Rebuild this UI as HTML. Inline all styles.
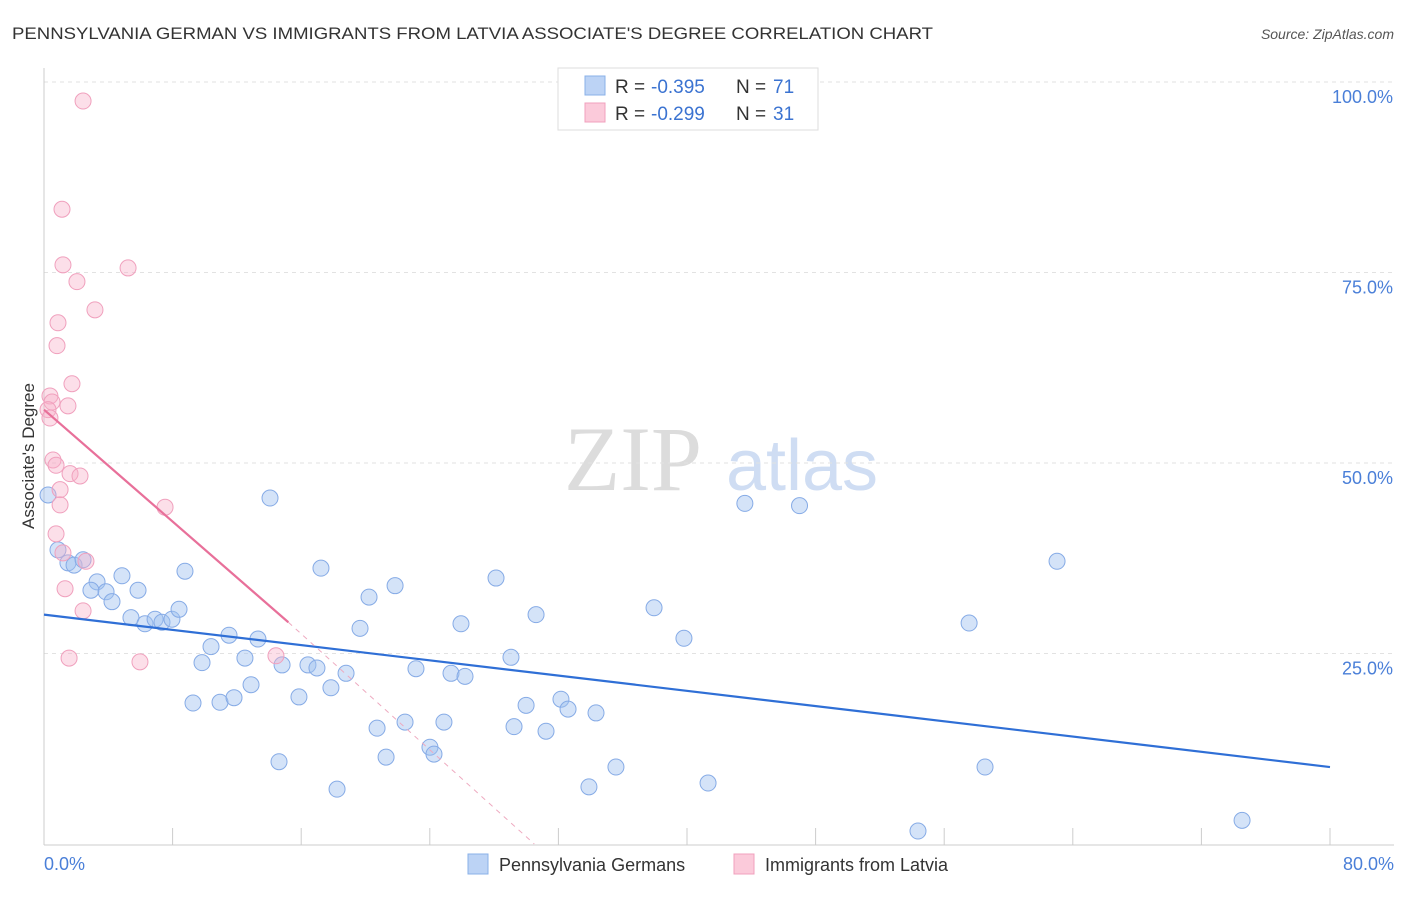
<!DOCTYPE html>
<html><head><meta charset="utf-8"><style>
body{margin:0;background:#fff;font-family:"Liberation Sans",sans-serif}
svg text{font-family:"Liberation Sans",sans-serif}
</style></head><body>
<svg id="chart" width="1406" height="892" xmlns="http://www.w3.org/2000/svg">
<text x="12" y="39" font-size="17" fill="#333" textLength="921" lengthAdjust="spacingAndGlyphs">PENNSYLVANIA GERMAN VS IMMIGRANTS FROM LATVIA ASSOCIATE'S DEGREE CORRELATION CHART</text>
<text x="1394" y="39" font-size="14" fill="#555" font-style="italic" text-anchor="end">Source: ZipAtlas.com</text>
<g>
<text x="633" y="490" font-size="92" fill="#dcdcdc" text-anchor="middle" style="font-family:'Liberation Serif',serif">ZIP</text>
<text x="802" y="490" font-size="72" fill="#cfddf3" text-anchor="middle">atlas</text>
</g>
<g id="grid"></g>
<g id="axes"></g>
<g id="marks"></g>
<text transform="translate(34,456) rotate(-90)" font-size="17" fill="#333" text-anchor="middle">Associate's Degree</text>
<g>
<rect x="558" y="68" width="260" height="62" fill="#fff" stroke="#ddd"/>
<rect x="585" y="76" width="20" height="19" fill="#bcd3f5" stroke="#8ab0e8"/>
<text x="615" y="93" font-size="19" fill="#333">R =</text>
<text x="651" y="93" font-size="19" fill="#3b73d1">-0.395</text>
<text x="736" y="93" font-size="19" fill="#333">N =</text>
<text x="773" y="93" font-size="19" fill="#3b73d1">71</text>
<rect x="585" y="103" width="20" height="19" fill="#fbcada" stroke="#f0a0bd"/>
<text x="615" y="120" font-size="19" fill="#333">R =</text>
<text x="651" y="120" font-size="19" fill="#3b73d1">-0.299</text>
<text x="736" y="120" font-size="19" fill="#333">N =</text>
<text x="773" y="120" font-size="19" fill="#3b73d1">31</text>
</g>
<g>
<rect x="468" y="854" width="20" height="20" fill="#bcd3f5" stroke="#8ab0e8"/>
<text x="499" y="871" font-size="18" fill="#333">Pennsylvania Germans</text>
<rect x="734" y="854" width="20" height="20" fill="#fbcada" stroke="#f0a0bd"/>
<text x="765" y="871" font-size="18" fill="#333">Immigrants from Latvia</text>
</g>
</svg>
<script>
const yTicks=[25,50,75,100];
const yTickLabels=["25.0%","50.0%","75.0%","100.0%"];
const xTicks=[0,8,16,24,32,40,48,56,64,72,80];
const blueX=[14.06,43.6,47.0,0.87,1.49,1.87,2.43,3.30,2.92,3.86,4.23,4.85,5.85,8.77,5.41,6.28,6.91,7.34,7.96,8.40,10.39,11.51,13.31,9.83,12.50,9.27,10.95,11.82,12.88,14.81,16.42,16.98,17.23,18.79,17.85,15.86,19.66,20.22,21.84,23.14,25.32,26.19,25.94,28.12,30.61,29.05,29.99,32.16,32.60,34.34,29.24,31.23,22.46,24.88,20.72,24.01,24.26,21.28,14.62,18.23,33.90,35.58,37.95,39.81,41.31,57.55,58.54,63.02,54.37,74.53,0.25];
const blueY=[45.4,44.7,44.4,38.6,36.9,36.6,37.3,34.4,33.3,33.1,31.8,35.2,33.3,35.8,29.7,28.9,29.5,29.1,29.5,30.8,25.9,27.4,26.9,23.8,24.4,18.5,18.6,19.2,20.9,23.5,23.5,23.1,36.2,22.4,20.5,19.3,28.3,32.4,33.9,23.0,22.4,22.0,28.9,34.9,30.1,24.5,18.2,19.0,17.7,17.2,15.4,14.8,16.0,16.0,15.2,12.7,11.8,11.4,10.8,7.2,7.5,10.1,31.0,27.0,8.0,29.0,10.1,37.1,1.7,3.1,45.8];
const pinkX=[2.43,1.12,1.18,5.23,2.05,3.17,0.87,0.81,1.74,0.37,0.50,1.49,0.25,0.37,0.56,0.75,1.62,2.24,1.00,1.00,7.53,0.75,1.18,2.61,1.31,2.43,1.56,5.97,14.43];
const pinkY=[97.5,83.3,76.0,75.6,73.8,70.1,68.4,65.4,60.4,58.8,58.0,57.5,57.0,55.9,50.4,49.7,48.6,48.3,46.5,44.5,44.2,40.7,38.2,37.1,33.5,30.6,24.4,23.9,24.7];
const blueTrend=[30.1,10.1];
const pinkTrend=[57.0,29.1,0];
const pinkTrendX=[0,15.2,30.5];
const NS="http://www.w3.org/2000/svg";
const X=v=>44+v/80*1286, Y=v=>844-v/100*762;
function mk(t,a,p){const e=document.createElementNS(NS,t);for(const k in a)e.setAttribute(k,a[k]);document.getElementById(p).appendChild(e);return e;}
yTicks.forEach((t,i)=>{
 const l=mk('line',{x1:44,x2:1394,y1:Y(t),y2:Y(t),stroke:'#e2e2e2','stroke-dasharray':'4,4'},'grid');
 
 
 const tx=mk('text',{x:1393,y:Y(t)+21,'font-size':18,fill:'#4a7fd8','text-anchor':'end'},'grid');
 tx.textContent=yTickLabels[i];
 
 
});
const ax=mk('line',{x1:44,x2:44,y1:68,y2:845,stroke:'#ccc'},'axes');


const bx=mk('line',{x1:44,x2:1394,y1:845,y2:845,stroke:'#ccc'},'axes');


xTicks.forEach(t=>{
 const l=mk('line',{x1:X(t),x2:X(t),y1:828,y2:845,stroke:'#ccc'},'axes');
 
 
});
const x0=mk('text',{x:44,y:870,'font-size':18,fill:'#4a7fd8'},'axes');x0.textContent='0.0%';


const x1=mk('text',{x:1394,y:870,'font-size':18,fill:'#4a7fd8','text-anchor':'end'},'axes');x1.textContent='80.0%';


blueX.forEach((v,i)=>{
 const c=mk('circle',{cx:X(v),cy:Y(blueY[i]),r:8,fill:'rgba(160,192,240,0.45)',stroke:'#86abe6','stroke-width':1},'marks');
 
 
});
pinkX.forEach((v,i)=>{
 const c=mk('circle',{cx:X(v),cy:Y(pinkY[i]),r:8,fill:'rgba(247,175,200,0.4)',stroke:'#f0a0bd','stroke-width':1},'marks');
 
 
});
const bt=mk('line',{x1:X(0),y1:Y(blueTrend[0]),x2:X(80),y2:Y(blueTrend[1]),stroke:'#2f6fd6','stroke-width':2.2},'marks');


const pt=mk('line',{x1:X(pinkTrendX[0]),y1:Y(pinkTrend[0]),x2:X(pinkTrendX[1]),y2:Y(pinkTrend[1]),stroke:'#e8709a','stroke-width':2.2},'marks');


const pd=mk('line',{x1:X(pinkTrendX[1]),y1:Y(pinkTrend[1]),x2:X(pinkTrendX[2]),y2:Y(pinkTrend[2]),stroke:'#eeaac0','stroke-width':1,'stroke-dasharray':'5,5'},'marks');


</script>
</body></html>
